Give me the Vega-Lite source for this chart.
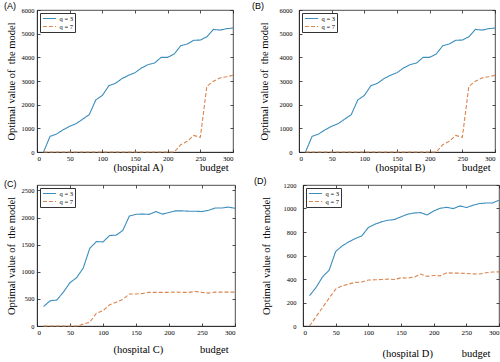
{
"$schema":"https://vega.github.io/schema/vega-lite/v6.json",
"background":"white",
"padding":{"left":3,"top":1,"right":1,"bottom":1},
"datasets":{
"AB":[
{"budget":10,"series":"q = 3","value":0},{"budget":20,"series":"q = 3","value":660},{"budget":30,"series":"q = 3","value":760},{"budget":40,"series":"q = 3","value":940},{"budget":50,"series":"q = 3","value":1085},{"budget":60,"series":"q = 3","value":1200},{"budget":70,"series":"q = 3","value":1390},{"budget":80,"series":"q = 3","value":1580},{"budget":90,"series":"q = 3","value":2200},{"budget":100,"series":"q = 3","value":2390},{"budget":110,"series":"q = 3","value":2800},{"budget":120,"series":"q = 3","value":2900},{"budget":130,"series":"q = 3","value":3100},{"budget":140,"series":"q = 3","value":3240},{"budget":150,"series":"q = 3","value":3350},{"budget":160,"series":"q = 3","value":3550},{"budget":170,"series":"q = 3","value":3690},{"budget":180,"series":"q = 3","value":3760},{"budget":190,"series":"q = 3","value":4000},{"budget":200,"series":"q = 3","value":4000},{"budget":210,"series":"q = 3","value":4140},{"budget":220,"series":"q = 3","value":4490},{"budget":230,"series":"q = 3","value":4560},{"budget":240,"series":"q = 3","value":4720},{"budget":250,"series":"q = 3","value":4730},{"budget":260,"series":"q = 3","value":4870},{"budget":270,"series":"q = 3","value":5180},{"budget":280,"series":"q = 3","value":5150},{"budget":290,"series":"q = 3","value":5210},{"budget":300,"series":"q = 3","value":5240},
{"budget":10,"series":"q = 7","value":0},{"budget":20,"series":"q = 7","value":0},{"budget":30,"series":"q = 7","value":0},{"budget":40,"series":"q = 7","value":0},{"budget":50,"series":"q = 7","value":0},{"budget":60,"series":"q = 7","value":0},{"budget":70,"series":"q = 7","value":0},{"budget":80,"series":"q = 7","value":0},{"budget":90,"series":"q = 7","value":0},{"budget":100,"series":"q = 7","value":0},{"budget":110,"series":"q = 7","value":0},{"budget":120,"series":"q = 7","value":0},{"budget":130,"series":"q = 7","value":0},{"budget":140,"series":"q = 7","value":0},{"budget":150,"series":"q = 7","value":0},{"budget":160,"series":"q = 7","value":0},{"budget":170,"series":"q = 7","value":0},{"budget":180,"series":"q = 7","value":0},{"budget":190,"series":"q = 7","value":0},{"budget":200,"series":"q = 7","value":0},{"budget":210,"series":"q = 7","value":0},{"budget":220,"series":"q = 7","value":310},{"budget":230,"series":"q = 7","value":450},{"budget":240,"series":"q = 7","value":700},{"budget":250,"series":"q = 7","value":620},{"budget":260,"series":"q = 7","value":2775},{"budget":270,"series":"q = 7","value":2990},{"budget":280,"series":"q = 7","value":3130},{"budget":290,"series":"q = 7","value":3180},{"budget":300,"series":"q = 7","value":3240}
],
"C":[
{"budget":10,"series":"q = 3","value":360},{"budget":20,"series":"q = 3","value":466},{"budget":30,"series":"q = 3","value":478},{"budget":40,"series":"q = 3","value":625},{"budget":50,"series":"q = 3","value":800},{"budget":60,"series":"q = 3","value":890},{"budget":70,"series":"q = 3","value":1067},{"budget":80,"series":"q = 3","value":1433},{"budget":90,"series":"q = 3","value":1557},{"budget":100,"series":"q = 3","value":1550},{"budget":110,"series":"q = 3","value":1669},{"budget":120,"series":"q = 3","value":1675},{"budget":130,"series":"q = 3","value":1763},{"budget":140,"series":"q = 3","value":2028},{"budget":150,"series":"q = 3","value":2060},{"budget":160,"series":"q = 3","value":2064},{"budget":170,"series":"q = 3","value":2058},{"budget":180,"series":"q = 3","value":2110},{"budget":190,"series":"q = 3","value":2064},{"budget":200,"series":"q = 3","value":2093},{"budget":210,"series":"q = 3","value":2122},{"budget":220,"series":"q = 3","value":2122},{"budget":230,"series":"q = 3","value":2117},{"budget":240,"series":"q = 3","value":2117},{"budget":250,"series":"q = 3","value":2110},{"budget":260,"series":"q = 3","value":2134},{"budget":270,"series":"q = 3","value":2175},{"budget":280,"series":"q = 3","value":2175},{"budget":290,"series":"q = 3","value":2193},{"budget":300,"series":"q = 3","value":2170},
{"budget":10,"series":"q = 7","value":0},{"budget":20,"series":"q = 7","value":0},{"budget":30,"series":"q = 7","value":0},{"budget":40,"series":"q = 7","value":0},{"budget":50,"series":"q = 7","value":0},{"budget":60,"series":"q = 7","value":0},{"budget":70,"series":"q = 7","value":35},{"budget":80,"series":"q = 7","value":70},{"budget":90,"series":"q = 7","value":236},{"budget":100,"series":"q = 7","value":283},{"budget":110,"series":"q = 7","value":390},{"budget":120,"series":"q = 7","value":436},{"budget":130,"series":"q = 7","value":490},{"budget":140,"series":"q = 7","value":590},{"budget":150,"series":"q = 7","value":590},{"budget":160,"series":"q = 7","value":600},{"budget":170,"series":"q = 7","value":620},{"budget":180,"series":"q = 7","value":620},{"budget":190,"series":"q = 7","value":620},{"budget":200,"series":"q = 7","value":620},{"budget":210,"series":"q = 7","value":625},{"budget":220,"series":"q = 7","value":620},{"budget":230,"series":"q = 7","value":620},{"budget":240,"series":"q = 7","value":637},{"budget":250,"series":"q = 7","value":620},{"budget":260,"series":"q = 7","value":607},{"budget":270,"series":"q = 7","value":625},{"budget":280,"series":"q = 7","value":625},{"budget":290,"series":"q = 7","value":625},{"budget":300,"series":"q = 7","value":625}
],
"D":[
{"budget":10,"series":"q = 3","value":258},{"budget":20,"series":"q = 3","value":328},{"budget":30,"series":"q = 3","value":419},{"budget":40,"series":"q = 3","value":475},{"budget":50,"series":"q = 3","value":634},{"budget":60,"series":"q = 3","value":682},{"budget":70,"series":"q = 3","value":716},{"budget":80,"series":"q = 3","value":744},{"budget":90,"series":"q = 3","value":767},{"budget":100,"series":"q = 3","value":838},{"budget":110,"series":"q = 3","value":866},{"budget":120,"series":"q = 3","value":886},{"budget":130,"series":"q = 3","value":900},{"budget":140,"series":"q = 3","value":906},{"budget":150,"series":"q = 3","value":930},{"budget":160,"series":"q = 3","value":951},{"budget":170,"series":"q = 3","value":962},{"budget":180,"series":"q = 3","value":965},{"budget":190,"series":"q = 3","value":945},{"budget":200,"series":"q = 3","value":979},{"budget":210,"series":"q = 3","value":1002},{"budget":220,"series":"q = 3","value":1010},{"budget":230,"series":"q = 3","value":999},{"budget":240,"series":"q = 3","value":1022},{"budget":250,"series":"q = 3","value":1008},{"budget":260,"series":"q = 3","value":1027},{"budget":270,"series":"q = 3","value":1042},{"budget":280,"series":"q = 3","value":1047},{"budget":290,"series":"q = 3","value":1047},{"budget":300,"series":"q = 3","value":1070},
{"budget":10,"series":"q = 7","value":0},{"budget":20,"series":"q = 7","value":79},{"budget":30,"series":"q = 7","value":158},{"budget":40,"series":"q = 7","value":238},{"budget":50,"series":"q = 7","value":314},{"budget":60,"series":"q = 7","value":342},{"budget":70,"series":"q = 7","value":357},{"budget":80,"series":"q = 7","value":371},{"budget":90,"series":"q = 7","value":374},{"budget":100,"series":"q = 7","value":391},{"budget":110,"series":"q = 7","value":393},{"budget":120,"series":"q = 7","value":396},{"budget":130,"series":"q = 7","value":399},{"budget":140,"series":"q = 7","value":396},{"budget":150,"series":"q = 7","value":410},{"budget":160,"series":"q = 7","value":408},{"budget":170,"series":"q = 7","value":416},{"budget":180,"series":"q = 7","value":442},{"budget":190,"series":"q = 7","value":422},{"budget":200,"series":"q = 7","value":430},{"budget":210,"series":"q = 7","value":427},{"budget":220,"series":"q = 7","value":453},{"budget":230,"series":"q = 7","value":450},{"budget":240,"series":"q = 7","value":450},{"budget":250,"series":"q = 7","value":447},{"budget":260,"series":"q = 7","value":444},{"budget":270,"series":"q = 7","value":442},{"budget":280,"series":"q = 7","value":453},{"budget":290,"series":"q = 7","value":459},{"budget":300,"series":"q = 7","value":461}
]
},
"vconcat":[
{"hconcat":[
{"width":196,"height":142,"title":{"text":"(A)","dx":-2},"data":{"name":"AB"},
"layer":[
{"mark":{"type":"line","strokeWidth":1.1},
"encoding":{
"x":{"field":"budget","type":"quantitative","scale":{"domain":[0,300]},"axis":{"values":[0,50,100,150,200,250,300],"title":"(hospital A)\u00a0\u00a0\u00a0\u00a0\u00a0\u00a0\u00a0\u00a0\u00a0\u00a0\u00a0\u00a0\u00a0\u00a0budget","titleX":76,"titleAlign":"left","titlePadding":1}},
"y":{"field":"value","type":"quantitative","scale":{"domain":[0,6000]},"axis":{"values":[0,1000,2000,3000,4000,5000,6000],"format":"d","title":"Optimal value of\u00a0 the model","labelPadding":6,"titlePadding":5}},
"color":{"field":"series","type":"nominal","scale":{"domain":["q = 3","q = 7"],"range":["#3c8dbc","#d9864f"]},"legend":{"title":null}},
"strokeDash":{"field":"series","type":"nominal","scale":{"domain":["q = 3","q = 7"],"range":[[1,0],[4,2]]},"legend":{"title":null}}
}},
{"mark":{"type":"point","opacity":0},
"encoding":{
"x":{"field":"budget","type":"quantitative","axis":{"orient":"top","values":[0,50,100,150,200,250,300],"labels":false,"title":null,"domain":false}},
"y":{"field":"value","type":"quantitative","axis":{"orient":"right","values":[0,1000,2000,3000,4000,5000,6000],"labels":false,"title":null,"domain":false}}
}}
],
"resolve":{"axis":{"x":"independent","y":"independent"}}
},
{"width":196,"height":142,"title":{"text":"(B)","dx":-7},"data":{"name":"AB"},
"layer":[
{"mark":{"type":"line","strokeWidth":1.1},
"encoding":{
"x":{"field":"budget","type":"quantitative","scale":{"domain":[0,300]},"axis":{"values":[0,50,100,150,200,250,300],"title":"(hospital B)\u00a0\u00a0\u00a0\u00a0\u00a0\u00a0\u00a0\u00a0\u00a0\u00a0\u00a0\u00a0\u00a0\u00a0budget","titleX":76,"titleAlign":"left","titlePadding":1}},
"y":{"field":"value","type":"quantitative","scale":{"domain":[0,6000]},"axis":{"values":[0,1000,2000,3000,4000,5000,6000],"format":"d","title":"Optimal value of\u00a0 the model","labelPadding":10,"titlePadding":10}},
"color":{"field":"series","type":"nominal","scale":{"domain":["q = 3","q = 7"],"range":["#3c8dbc","#d9864f"]},"legend":{"title":null}},
"strokeDash":{"field":"series","type":"nominal","scale":{"domain":["q = 3","q = 7"],"range":[[1,0],[4,2]]},"legend":{"title":null}}
}},
{"mark":{"type":"point","opacity":0},
"encoding":{
"x":{"field":"budget","type":"quantitative","axis":{"orient":"top","values":[0,50,100,150,200,250,300],"labels":false,"title":null,"domain":false}},
"y":{"field":"value","type":"quantitative","axis":{"orient":"right","values":[0,1000,2000,3000,4000,5000,6000],"labels":false,"title":null,"domain":false}}
}}
],
"resolve":{"axis":{"x":"independent","y":"independent"}}
}
],"spacing":14,
"resolve":{"scale":{"color":"independent","strokeDash":"independent"},"legend":{"color":"independent","strokeDash":"independent"}}},
{"hconcat":[
{"width":198,"height":141,"title":{"text":"(C)","dx":-2},"data":{"name":"C"},
"layer":[
{"mark":{"type":"line","strokeWidth":1.1},
"encoding":{
"x":{"field":"budget","type":"quantitative","scale":{"domain":[0,300]},"axis":{"values":[0,50,100,150,200,250,300],"title":"(hospital C)\u00a0\u00a0\u00a0\u00a0\u00a0\u00a0\u00a0\u00a0\u00a0\u00a0\u00a0\u00a0\u00a0\u00a0budget","titleX":76,"titleAlign":"left","titlePadding":9}},
"y":{"field":"value","type":"quantitative","scale":{"domain":[0,2500]},"axis":{"values":[0,500,1000,1500,2000,2500],"format":"d","title":"Optimal value of\u00a0 the model","labelPadding":6,"titlePadding":5}},
"color":{"field":"series","type":"nominal","scale":{"domain":["q = 3","q = 7"],"range":["#3c8dbc","#d9864f"]},"legend":{"title":null}},
"strokeDash":{"field":"series","type":"nominal","scale":{"domain":["q = 3","q = 7"],"range":[[1,0],[4,2]]},"legend":{"title":null}}
}},
{"mark":{"type":"point","opacity":0},
"encoding":{
"x":{"field":"budget","type":"quantitative","axis":{"orient":"top","values":[0,50,100,150,200,250,300],"labels":false,"title":null,"domain":false}},
"y":{"field":"value","type":"quantitative","axis":{"orient":"right","values":[0,500,1000,1500,2000,2500],"labels":false,"title":null,"domain":false}}
}}
],
"resolve":{"axis":{"x":"independent","y":"independent"}}
},
{"width":196,"height":141,"title":{"text":"(D)","dx":-7},"data":{"name":"D"},
"layer":[
{"mark":{"type":"line","strokeWidth":1.1},
"encoding":{
"x":{"field":"budget","type":"quantitative","scale":{"domain":[0,300]},"axis":{"values":[0,50,100,150,200,250,300],"title":"(hospital D)\u00a0\u00a0\u00a0\u00a0\u00a0\u00a0\u00a0\u00a0\u00a0\u00a0\u00a0budget","titleX":79,"titleAlign":"left","titlePadding":13}},
"y":{"field":"value","type":"quantitative","scale":{"domain":[0,1200]},"axis":{"values":[0,200,400,600,800,1000,1200],"format":"d","title":"Optimal value of\u00a0 the model","labelPadding":10,"titlePadding":12}},
"color":{"field":"series","type":"nominal","scale":{"domain":["q = 3","q = 7"],"range":["#3c8dbc","#d9864f"]},"legend":{"title":null}},
"strokeDash":{"field":"series","type":"nominal","scale":{"domain":["q = 3","q = 7"],"range":[[1,0],[4,2]]},"legend":{"title":null}}
}},
{"mark":{"type":"point","opacity":0},
"encoding":{
"x":{"field":"budget","type":"quantitative","axis":{"orient":"top","values":[0,50,100,150,200,250,300],"labels":false,"title":null,"domain":false}},
"y":{"field":"value","type":"quantitative","axis":{"orient":"right","values":[0,200,400,600,800,1000,1200],"labels":false,"title":null,"domain":false}}
}}
],
"resolve":{"axis":{"x":"independent","y":"independent"}}
}
],"spacing":14,
"resolve":{"scale":{"color":"independent","strokeDash":"independent"},"legend":{"color":"independent","strokeDash":"independent"}}}
],
"spacing":3,
"resolve":{"scale":{"color":"independent","strokeDash":"independent"},"legend":{"color":"independent","strokeDash":"independent"}},
"config":{
"view":{"stroke":"#222","strokeWidth":0.8},
"title":{"anchor":"start","frame":"bounds","font":"Liberation Sans","fontSize":9,"fontWeight":"normal","color":"#000","offset":-4},
"axis":{"grid":false,"domainColor":"#222","domainWidth":0.8,"tickColor":"#222","tickWidth":0.8,"tickSize":-3,"labelColor":"#000","titleColor":"#000","labelFont":"Liberation Serif","titleFont":"Liberation Serif","titleFontSize":10.5,"titleFontWeight":"normal"},
"axisX":{"labelFontSize":7,"labelPadding":5},
"axisY":{"labelFontSize":6.5},
"legend":{"orient":"top-left","offset":3,"strokeColor":"#333","fillColor":"white","padding":1.5,"labelFont":"Liberation Serif","labelFontSize":6.5,"labelColor":"#000","labelOffset":6,"symbolType":"M-2.2,0H2.2","symbolSize":36,"symbolOffset":4,"symbolStrokeWidth":1.2,"rowPadding":0}
}
}
